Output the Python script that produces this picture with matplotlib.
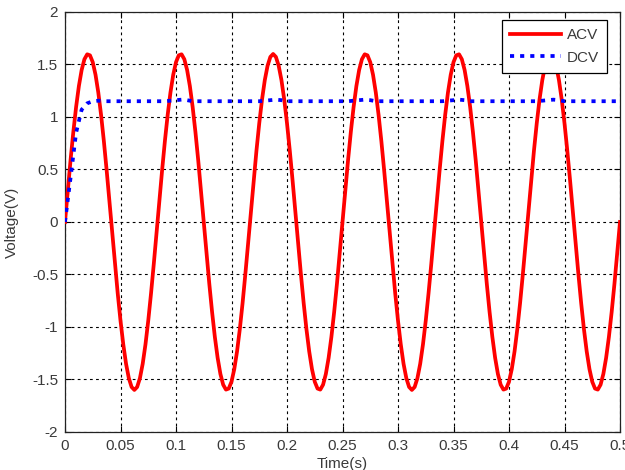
import numpy as np
import matplotlib
matplotlib.use("Agg")
import matplotlib.pyplot as plt

# one 50-sample block (1.5 periods) repeats with flipped sign
acv_time = np.arange(201) * 0.0025
acv_block = [0.0, 0.300, 0.589, 0.857, 1.095, 1.294, 1.448, 1.550, 1.597, 1.587,
             1.522, 1.402, 1.233, 1.020, 0.771, 0.494, 0.200, -0.100, -0.398, -0.681,
             -0.940, -1.166, -1.351, -1.488, -1.572, -1.600, -1.572, -1.488, -1.351, -1.166,
             -0.940, -0.681, -0.398, -0.100, 0.200, 0.494, 0.771, 1.020, 1.233, 1.402,
             1.522, 1.587, 1.597, 1.550, 1.448, 1.294, 1.095, 0.857, 0.589, 0.300]
acv = (acv_block + [-v for v in acv_block]) * 2 + [0.0]

# DC voltage sampled every 5 ms
dcv_time = np.arange(101) * 0.005
dcv = [0.0, 0.42, 0.85, 1.07, 1.13, 1.15, 1.155, 1.15, 1.15, 1.15,
       1.15, 1.15, 1.15, 1.15, 1.15, 1.15, 1.15, 1.15, 1.15, 1.155,
       1.16, 1.165, 1.16, 1.15, 1.15, 1.15, 1.15, 1.15, 1.15, 1.15,
       1.15, 1.15, 1.15, 1.15, 1.15, 1.15, 1.155, 1.16, 1.165, 1.16,
       1.15, 1.15, 1.15, 1.15, 1.15, 1.15, 1.15, 1.15, 1.15, 1.15,
       1.15, 1.15, 1.155, 1.16, 1.165, 1.16, 1.15, 1.15, 1.15, 1.15,
       1.15, 1.15, 1.15, 1.15, 1.15, 1.15, 1.15, 1.15, 1.15, 1.155,
       1.16, 1.165, 1.16, 1.15, 1.15, 1.15, 1.15, 1.15, 1.15, 1.15,
       1.15, 1.15, 1.15, 1.15, 1.15, 1.15, 1.155, 1.16, 1.165, 1.16,
       1.15, 1.15, 1.15, 1.15, 1.15, 1.15, 1.15, 1.15, 1.15, 1.15, 1.15]

x_ticks = [0, 0.05, 0.1, 0.15, 0.2, 0.25, 0.3, 0.35, 0.4, 0.45, 0.5]
x_tick_labels = ["0", "0.05", "0.1", "0.15", "0.2", "0.25", "0.3", "0.35", "0.4", "0.45", "0.5"]
y_ticks = [-2, -1.5, -1, -0.5, 0, 0.5, 1, 1.5, 2]
y_tick_labels = ["-2", "-1.5", "-1", "-0.5", "0", "0.5", "1", "1.5", "2"]

plt.rcParams['font.family'] = ['Liberation Sans', 'DejaVu Sans']

fig = plt.figure(figsize=(6.25, 4.7), dpi=100)
ax = fig.add_axes([0.104, 0.081, 0.888, 0.8935])

ax.plot(acv_time, acv, color='#ff0000', lw=2.7, label='ACV', zorder=3)
ax.plot(dcv_time, dcv, color='#0000ff', lw=2.7, linestyle=(0, (1.1, 1.6)),
        dash_capstyle='butt', label='DCV', zorder=4)

ax.set_xlim(0, 0.5)
ax.set_ylim(-2, 2)
ax.set_xticks(x_ticks)
ax.set_xticklabels(x_tick_labels)
ax.set_yticks(y_ticks)
ax.set_yticklabels(y_tick_labels)
ax.tick_params(direction='in', top=True, right=True, length=4, labelsize=11,
               labelcolor='#3a3a3a', pad=5)
ax.grid(True, color='black', linestyle=(0, (2.5, 3)), lw=0.8)
for sp in ax.spines.values():
    sp.set_color('#222222')
    sp.set_linewidth(0.9)

ax.set_xlabel('Time(s)', fontsize=11, color='#3a3a3a', labelpad=3)
ax.set_ylabel('Voltage(V)', fontsize=11, color='#3a3a3a', labelpad=9)

leg = ax.legend(loc='upper right', fontsize=11, fancybox=False, framealpha=1,
                edgecolor='black', handlelength=3.3, handletextpad=0.4,
                borderpad=0.55, labelspacing=0.55, borderaxespad=0,
                bbox_to_anchor=(0.977, 0.981))
leg.get_frame().set_linewidth(0.9)
for t in leg.get_texts():
    t.set_color('#3a3a3a')

fig.savefig('out.png', dpi=100)
